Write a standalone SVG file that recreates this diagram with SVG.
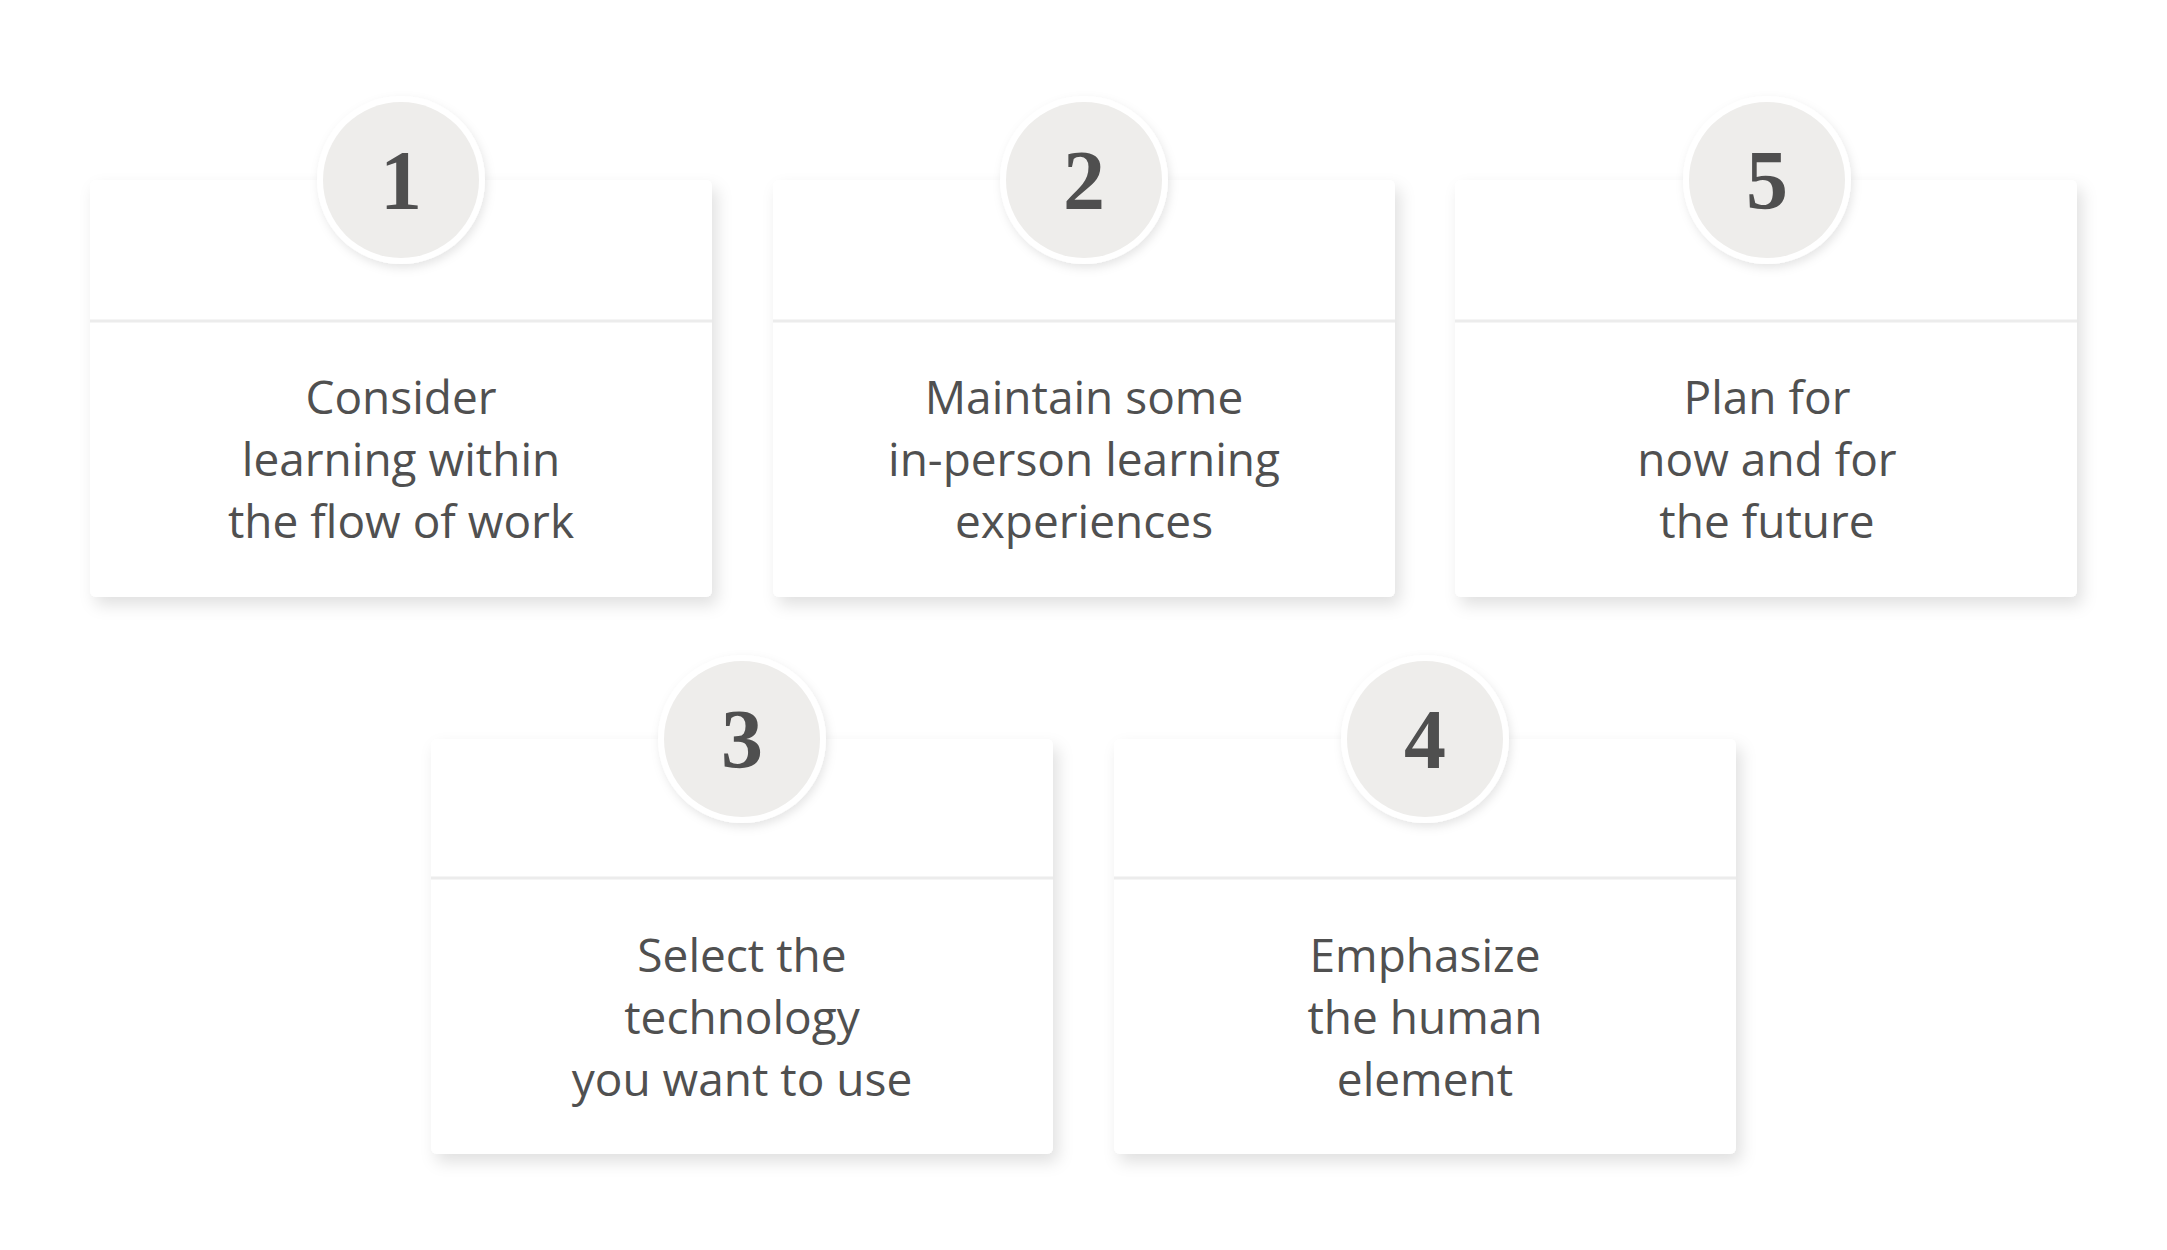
<svg xmlns="http://www.w3.org/2000/svg" width="2167" height="1250" viewBox="0 0 2167 1250">
<style>
.card{fill:#fff;filter:url(#sh)}
.div{stroke:#ececec;stroke-width:3}
.ring{fill:#fff;filter:url(#sh2)}
.disc{fill:#eeedeb}
.num{font-family:"Liberation Serif","DejaVu Serif",serif;font-weight:bold;font-size:84px;fill:#4f4f4f;text-anchor:middle}
.t{font-family:"Open Sans","Liberation Sans",sans-serif;font-size:46px;fill:#505050;text-anchor:middle;font-weight:500}
</style>
<defs>
<filter id="sh" x="-10%" y="-10%" width="130%" height="130%"><feDropShadow dx="5" dy="8" stdDeviation="8" flood-color="#000" flood-opacity="0.12"/></filter>
<filter id="sh2" x="-20%" y="-20%" width="140%" height="140%"><feDropShadow dx="2" dy="4" stdDeviation="5" flood-color="#000" flood-opacity="0.1"/></filter>
</defs>
<rect width="2167" height="1250" fill="#fff"/>
<g id="node1">
<rect class="card" x="90" y="180" width="622" height="417" rx="6"/>
<line class="div" x1="90" y1="321" x2="712" y2="321"/>
<circle class="ring" cx="401" cy="180" r="84"/><circle class="disc" cx="401" cy="180" r="78"/>
<text class="num" x="401" y="209">1</text>
<text class="t" x="401" y="414">Consider</text><text class="t" x="401" y="476">learning within</text><text class="t" x="401" y="538">the flow of work</text>
</g>
<g id="node2">
<rect class="card" x="773" y="180" width="622" height="417" rx="6"/>
<line class="div" x1="773" y1="321" x2="1395" y2="321"/>
<circle class="ring" cx="1084" cy="180" r="84"/><circle class="disc" cx="1084" cy="180" r="78"/>
<text class="num" x="1084" y="209">2</text>
<text class="t" x="1084" y="414">Maintain some</text><text class="t" x="1084" y="476">in-person learning</text><text class="t" x="1084" y="538">experiences</text>
</g>
<g id="node5">
<rect class="card" x="1455" y="180" width="622" height="417" rx="6"/>
<line class="div" x1="1455" y1="321" x2="2077" y2="321"/>
<circle class="ring" cx="1767" cy="180" r="84"/><circle class="disc" cx="1767" cy="180" r="78"/>
<text class="num" x="1767" y="209">5</text>
<text class="t" x="1767" y="414">Plan for</text><text class="t" x="1767" y="476">now and for</text><text class="t" x="1767" y="538">the future</text>
</g>
<g id="node3">
<rect class="card" x="431" y="739" width="622" height="415" rx="6"/>
<line class="div" x1="431" y1="878" x2="1053" y2="878"/>
<circle class="ring" cx="742" cy="739" r="84"/><circle class="disc" cx="742" cy="739" r="78"/>
<text class="num" x="742" y="768">3</text>
<text class="t" x="742" y="972">Select the</text><text class="t" x="742" y="1034">technology</text><text class="t" x="742" y="1096">you want to use</text>
</g>
<g id="node4">
<rect class="card" x="1114" y="739" width="622" height="415" rx="6"/>
<line class="div" x1="1114" y1="878" x2="1736" y2="878"/>
<circle class="ring" cx="1425" cy="739" r="84"/><circle class="disc" cx="1425" cy="739" r="78"/>
<text class="num" x="1425" y="768">4</text>
<text class="t" x="1425" y="972">Emphasize</text><text class="t" x="1425" y="1034">the human</text><text class="t" x="1425" y="1096">element</text>
</g>
<g id="connectors"/>
</svg>
